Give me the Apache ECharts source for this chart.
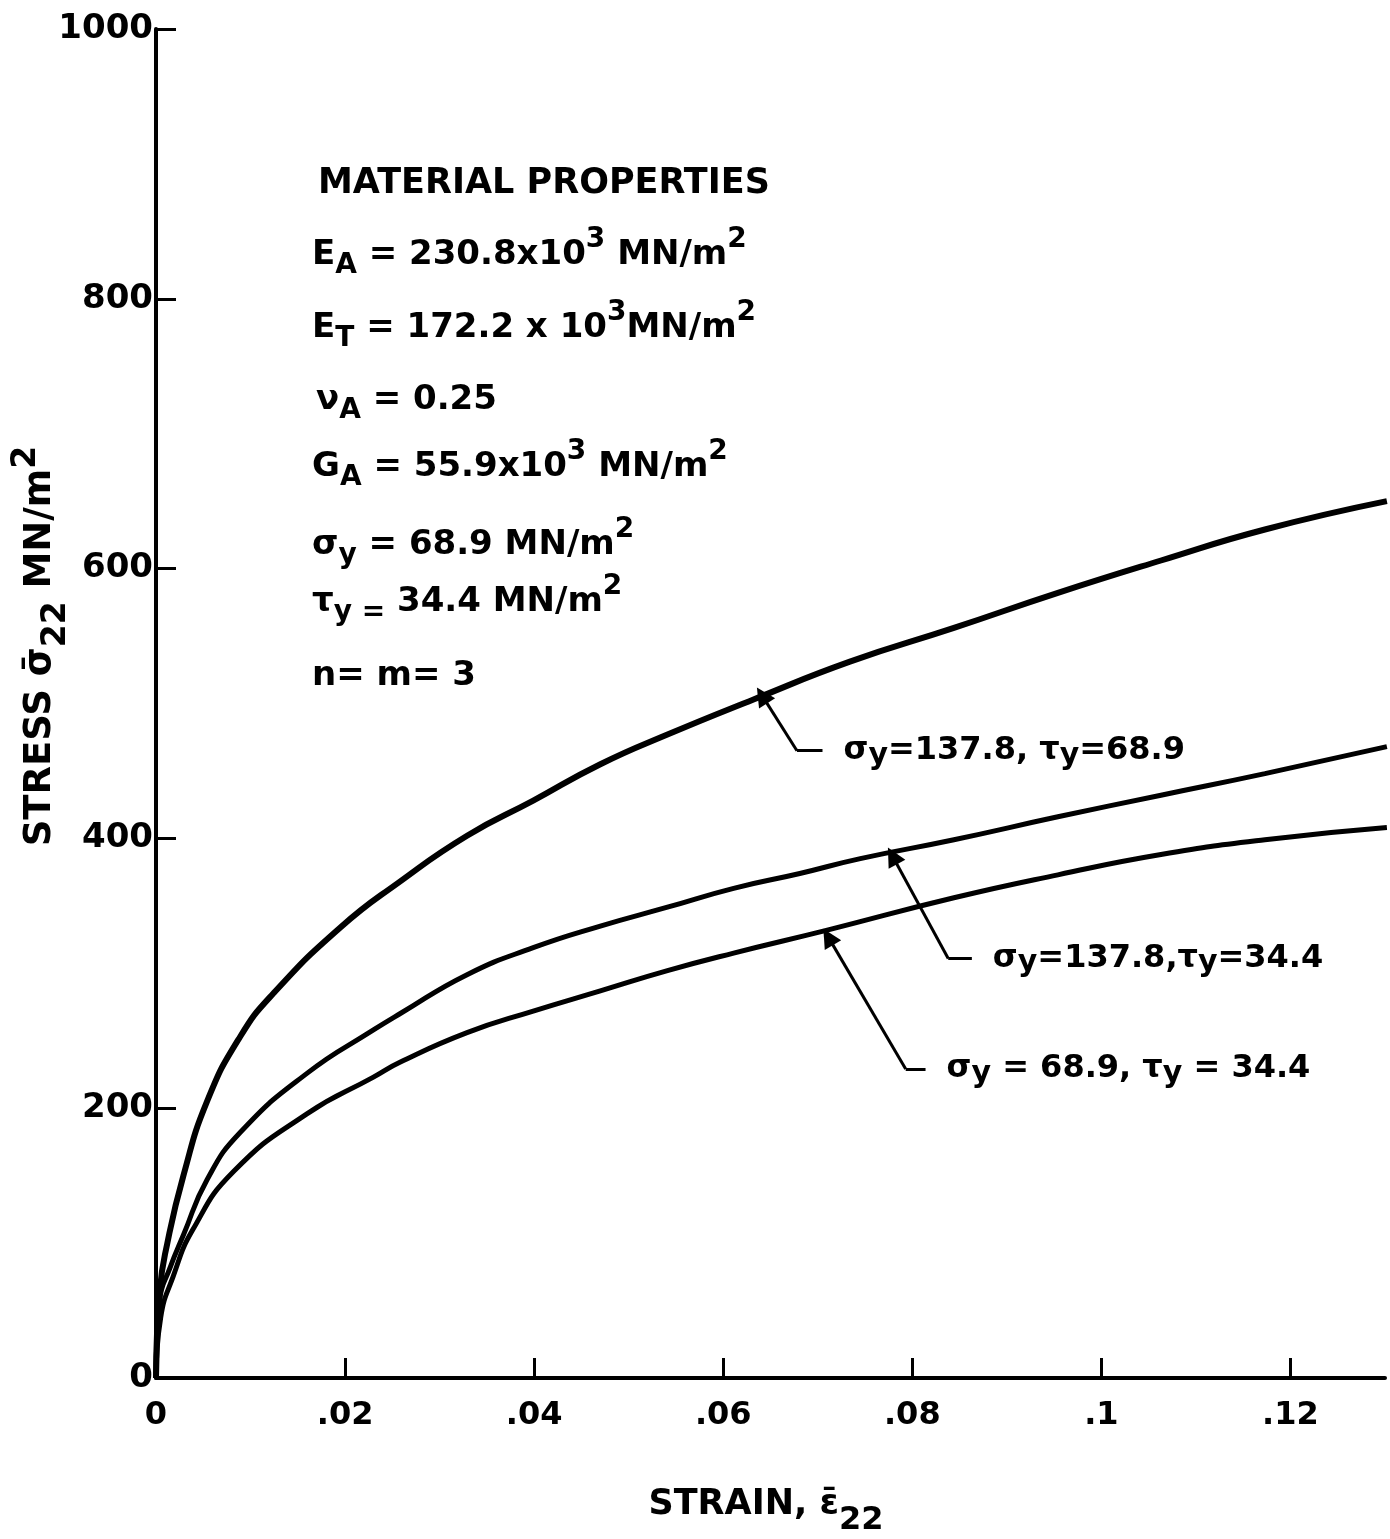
<!DOCTYPE html>
<html>
<head>
<meta charset="utf-8">
<script src="https://cdn.jsdelivr.net/npm/echarts@6/dist/echarts.min.js"></script>
<style>
  html, body { margin: 0; padding: 0; background: #fff; }
  #chart { width: 1390px; height: 1539px; }
</style>
</head>
<body>
<div id="chart"></div>
<script>
// ---------------- data ----------------
// sigma_y = 137.8, tau_y = 68.9
const curveTop = [[0,0],[0.0004,65],[0.0012,100],[0.0029,150],[0.0054,205],[0.0089,253],[0.0124,285],
  [0.0195,334],[0.0258,368],[0.0329,402],[0.0399,428],[0.047,455],[0.0541,477],[0.0632,503],
  [0.0734,531],[0.0844,556],[0.0954,582],[0.1063,606],[0.1173,629],[0.1302,650]];
// sigma_y = 137.8, tau_y = 34.4
const curveMid = [[0,0],[0.0004,58],[0.0015,82],[0.0029,106],[0.0054,147],[0.0089,182],[0.016,226],
  [0.023,258],[0.0258,270],[0.0329,299],[0.0399,319],[0.047,335],[0.0541,349],[0.0611,363],
  [0.0681,374],[0.0745,385],[0.0844,399],[0.0954,416],[0.1063,432],[0.1173,448],[0.1302,468]];
// sigma_y = 68.9, tau_y = 34.4
const curveLow = [[0,0],[0.0005,45],[0.0018,75],[0.0039,110],[0.0082,153],[0.016,196],
  [0.023,223],[0.0258,234],[0.0329,256],[0.0399,272],[0.047,287],[0.0541,302],[0.0611,315],
  [0.071,332],[0.0844,356],[0.0954,373],[0.1063,388],[0.1173,399],[0.1302,408]];

// leader arrows (tip -> corner) and horizontal leaders (corner -> end), data coordinates
const arrowShafts = [
  [[0.0641,506],[0.0678,465]],
  [[0.0779,387],[0.0838,311]],
  [[0.0711,327],[0.0793,229]]
];
const arrowLeaders = [
  [[0.0678,465],[0.0705,465]],
  [[0.0838,311],[0.0863,311]],
  [[0.0793,229],[0.0814,229]]
];
const curveLabels = ['σ_{y}=137.8, τ_{y}=68.9', 'σ_{y}=137.8,τ_{y}=34.4', 'σ_{y} = 68.9, τ_{y} = 34.4'];

const xTickValues = [0, 0.02, 0.04, 0.06, 0.08, 0.1, 0.12];
const xRange = { min: 0, max: 0.13, interval: 0.02 };
const yRange = { min: 0, max: 1000, interval: 200 };

const blockLines = [
  'MATERIAL PROPERTIES',
  'E_{A} = 230.8x10^{3} MN/m^{2}',
  'E_{T} = 172.2 x 10^{3}MN/m^{2}',
  'ν_{A} = 0.25',
  'G_{A} = 55.9x10^{3} MN/m^{2}',
  'σ_{y} = 68.9 MN/m^{2}',
  'τ_{y =} 34.4 MN/m^{2}',
  'n= m= 3'
];
const yTitle = 'STRESS σ\u0304_{22} MN/m^{2}';
const xTitle = 'STRAIN, ε\u0304_{22}';

// ---------------- helpers ----------------
const FONT = "'DejaVu Sans', 'Liberation Sans', sans-serif";
function toRich(s) {
  return '{b|' + s.replace(/_\{([^}]*)\}/g, '}{sub|$1}{b|').replace(/\^\{([^}]*)\}/g, '}{sup|$1}{b|') + '}';
}
function richSet(size, subSize, subShift, supShift) {
  return {
    b:   { fontFamily: FONT, fontWeight: 'bold', fontSize: size, fill: '#000', color: '#000' },
    sub: { fontFamily: FONT, fontWeight: 'bold', fontSize: subSize, fill: '#000', color: '#000', padding: [subShift * 2, 0, 0, 0] },
    sup: { fontFamily: FONT, fontWeight: 'bold', fontSize: subSize, fill: '#000', color: '#000', padding: [0, 0, supShift * 2, 0] }
  };
}
function isGridTick(v) {
  const k = v / xRange.interval;
  return Math.abs(k - Math.round(k)) < 1e-6;
}

const chart = echarts.init(document.getElementById('chart'), null, { renderer: 'canvas' });

const blockY = [184, 255, 328, 400, 467, 545, 602, 676];
const blockX = [318, 312, 312, 316, 312, 312, 312, 312];

const graphics = [];
blockLines.forEach((ln, i) => {
  graphics.push({
    type: 'text', x: blockX[i], y: blockY[i], silent: true,
    style: { text: toRich(ln), rich: richSet(i === 0 ? 35 : 34, 28, 11, 15), align: 'left', verticalAlign: 'middle' }
  });
});
graphics.push({
  type: 'text', x: 40, y: 646, rotation: Math.PI / 2, silent: true,
  style: { text: toRich(yTitle), rich: richSet(37, 33, 16, 14), align: 'center', verticalAlign: 'middle' }
});
graphics.push({
  type: 'text', x: 766, y: 1505, silent: true,
  style: { text: toRich(xTitle), rich: richSet(35, 32, 16, 14), align: 'center', verticalAlign: 'middle' }
});

const labelPoints = arrowLeaders.map((seg, i) => ({ value: seg[1], label: { formatter: toRich(curveLabels[i]) } }));

const axisLineStyle = { show: true, onZero: false, lineStyle: { color: '#000', width: 4 } };
const tickStyle = { color: '#000', width: 3 };

chart.setOption({
  animation: false,
  backgroundColor: '#fff',
  grid: { left: 156, right: 5, top: 29, bottom: 161, containLabel: false, outerBoundsMode: 'none' },
  xAxis: {
    type: 'value', min: xRange.min, max: xRange.max, interval: xRange.interval,
    axisLine: axisLineStyle,
    axisTick: { show: true, inside: true, length: 20, lineStyle: tickStyle, customValues: xTickValues },
    splitLine: { show: false },
    axisLabel: {
      show: true, margin: 22, color: '#000', fontSize: 32, fontWeight: 'bold', fontFamily: FONT,
      formatter: v => !isGridTick(v) ? '' : (v === 0 ? '0' : String(+(+v).toFixed(2)).replace(/^0\./, '.'))
    }
  },
  yAxis: {
    type: 'value', min: yRange.min, max: yRange.max, interval: yRange.interval,
    axisLine: axisLineStyle,
    axisTick: { show: true, inside: true, length: 20, lineStyle: tickStyle },
    splitLine: { show: false },
    axisLabel: { show: true, margin: 3, color: '#000', fontSize: 34, fontWeight: 'bold', fontFamily: FONT,
      formatter: v => String(v) }
  },
  series: [
    { type: 'line', data: curveTop, symbol: 'none', showSymbol: false, smooth: 0.5,
      lineStyle: { color: '#000', width: 6 }, z: 3, silent: true },
    { type: 'line', data: curveMid, symbol: 'none', showSymbol: false, smooth: 0.5,
      lineStyle: { color: '#000', width: 5 }, z: 3, silent: true },
    { type: 'line', data: curveLow, symbol: 'none', showSymbol: false, smooth: 0.5,
      lineStyle: { color: '#000', width: 5 }, z: 3, silent: true },
    { type: 'lines', coordinateSystem: 'cartesian2d', silent: true, z: 4,
      data: arrowShafts.map(c => ({ coords: c })),
      symbol: ['triangle', 'none'], symbolSize: 19,
      itemStyle: { color: '#000' },
      lineStyle: { color: '#000', width: 3, opacity: 1, curveness: 0 } },
    { type: 'lines', coordinateSystem: 'cartesian2d', silent: true, z: 4,
      data: arrowLeaders.map(c => ({ coords: c })),
      symbol: ['none', 'none'],
      lineStyle: { color: '#000', width: 3, opacity: 1, curveness: 0 } },
    { type: 'scatter', data: labelPoints, symbolSize: 0, silent: true, z: 5,
      label: { show: true, position: 'right', distance: 21, color: '#000', opacity: 1,
        rich: richSet(32, 30, 5, 12) } }
  ],
  graphic: graphics
});
</script>
</body>
</html>
